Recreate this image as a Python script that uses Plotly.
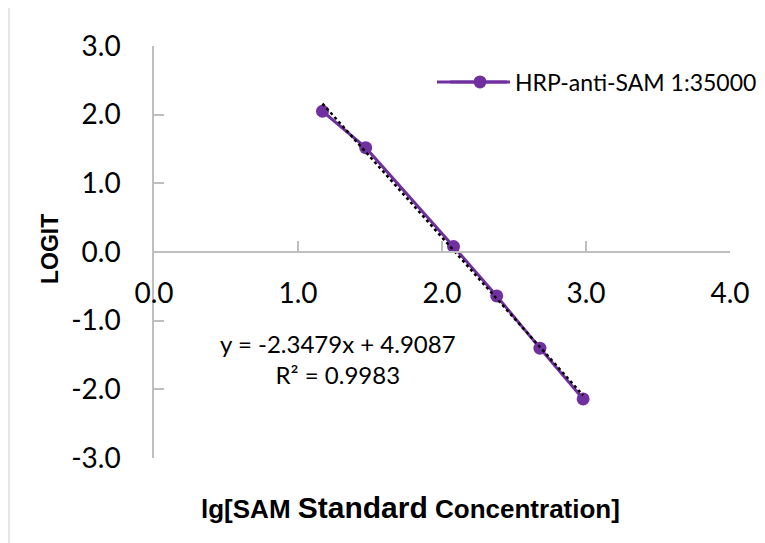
import plotly.graph_objects as go

# data
lg_conc = [1.17, 1.47, 2.08, 2.38, 2.68, 2.98]
logit = [2.05, 1.52, 0.08, -0.64, -1.40, -2.14]
series_name = "HRP-anti-SAM 1:35000"
slope, intercept = -2.3479, 4.9087
r2 = 0.9983
x_ticks = [0, 1, 2, 3, 4]
y_ticks = [-3, -2, -1, 0, 1, 2, 3]

W, H = 765, 543
OX, OY = 6, 7  # page offset of the rendered figure
L, T = 152 - OX, 45 - OY
pw, ph = 576, 412
R, B = W - L - pw, H - T - ph


def px(xp):
    return (xp - OX - L) / pw


def py(yp):
    return (T + ph - (yp - OY)) / ph


PURPLE = "#7030A0"
GRID = "#BFBFBF"
TXT = "Lato"

fig = go.Figure()
fig.add_trace(go.Scatter(
    x=lg_conc, y=logit, mode="lines+markers", name=series_name,
    line=dict(color=PURPLE, width=3),
    marker=dict(color=PURPLE, size=13),
))
trend_x = [lg_conc[0], lg_conc[-1]]
trend_y = [slope * v + intercept for v in trend_x]
fig.add_trace(go.Scatter(
    x=trend_x, y=trend_y, mode="lines", showlegend=False,
    line=dict(color="black", width=2.5, dash="dot"),
))

fig.add_annotation(
    x=px(336), y=py(358), xref="paper", yref="paper",
    xanchor="center", yanchor="middle",
    text=f"y = {slope}x + {intercept}<br>R² = {r2}",
    showarrow=False, align="center",
    font=dict(family=TXT, size=24, color="black"),
)
# y-axis title
fig.add_annotation(
    x=px(48), y=py(248), xref="paper", yref="paper",
    xanchor="center", yanchor="middle",
    text="<b>LOGIT</b>", textangle=-90, showarrow=False,
    font=dict(family="Liberation Sans", size=23, color="black"),
)
# x-axis title
fig.add_annotation(
    x=px(408), y=py(506), xref="paper", yref="paper",
    xanchor="center", yanchor="middle",
    text="<b>lg[SAM <span style='font-size:30px'>Standard</span> Concentration]</b>",
    showarrow=False,
    font=dict(family="Liberation Sans", size=26, color="black"),
)
# outer chart border
fig.add_shape(type="rect", xref="paper", yref="paper",
              x0=px(7), x1=px(800), y0=py(600), y1=py(4),
              line=dict(color="#D9D9D9", width=1.3), fillcolor="rgba(0,0,0,0)")
# longer legend key line (Excel style)
fig.add_shape(type="line", xref="paper", yref="paper",
              x0=px(435), x1=px(505), y0=py(81), y1=py(81),
              line=dict(color=PURPLE, width=3))

fig.update_xaxes(
    range=[0, 4], tickvals=x_ticks, ticktext=[f"{v:.1f}" for v in x_ticks],
    anchor="free", position=0.5, showline=True, linecolor=GRID, linewidth=1.5,
    ticks="inside", ticklen=10, tickcolor=GRID, tickwidth=1.5,
    showgrid=False, zeroline=False, ticklabelstandoff=17,
    tickfont=dict(family=TXT, size=28, color="black"),
)
fig.update_yaxes(
    range=[-3, 3], tickvals=y_ticks, ticktext=[f"{v:.1f}" for v in y_ticks],
    showline=True, linecolor=GRID, linewidth=1.5,
    ticks="inside", ticklen=10, tickcolor=GRID, tickwidth=1.5,
    showgrid=False, zeroline=False, ticklabelstandoff=26,
    tickfont=dict(family=TXT, size=28, color="black"),
)

fig.update_layout(
    width=W, height=H,
    margin=dict(l=L, r=R, t=T, b=B, autoexpand=False),
    paper_bgcolor="white", plot_bgcolor="white",
    showlegend=True,
    legend=dict(x=px(443), y=py(81), xanchor="left", yanchor="middle",
                font=dict(family=TXT, size=23, color="black"),
                bgcolor="rgba(0,0,0,0)", itemwidth=60),
)

fig.write_html("out.html")
